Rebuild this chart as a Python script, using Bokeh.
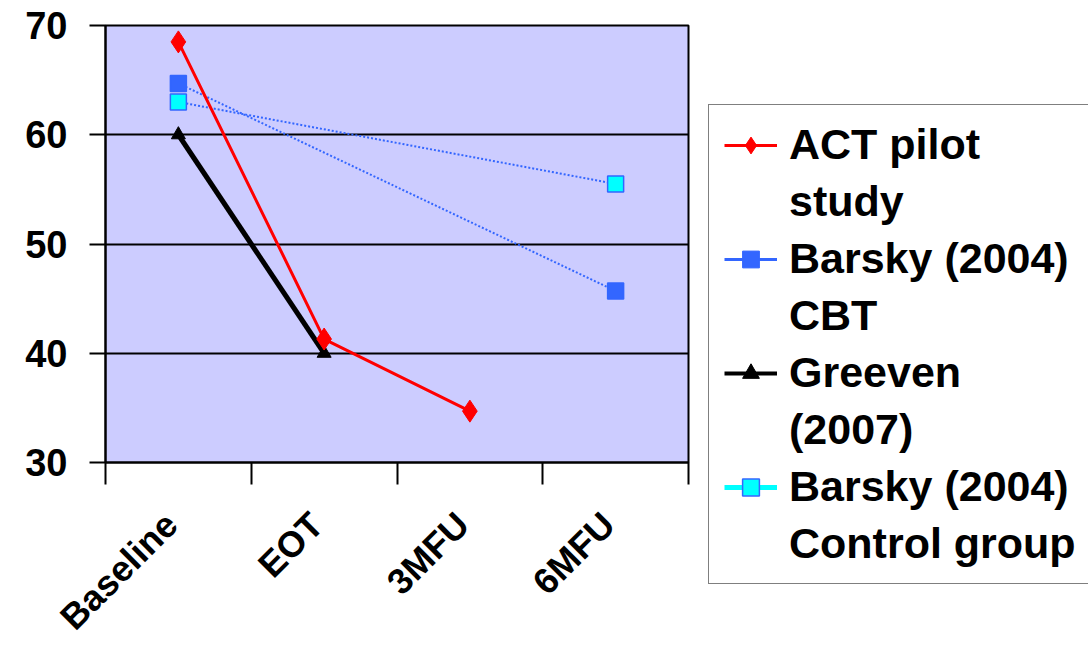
import math
from bokeh.plotting import figure
from bokeh.models import Range1d, FixedTicker, Legend, LegendItem
from bokeh.embed import file_html
from bokeh.resources import INLINE

categories = ["Baseline", "EOT", "3MFU", "6MFU"]
act_pilot = [68.5, 41.3, 34.7, None]
barsky_cbt = [64.7, None, None, 45.7]
greeven = [60.0, 40.0, None, None]
barsky_control = [63.0, None, None, 55.5]
y_ticks = [30, 40, 50, 60, 70]

legend_labels = [
    ["ACT pilot", "study"],
    ["Barsky (2004)", "CBT"],
    ["Greeven", "(2007)"],
    ["Barsky (2004)", "Control group"],
]

FONT_NAME = "Liberation Sans"
xpos = [i + 0.5 for i in range(len(categories))]
label_pos = [round(x - 0.05, 2) for x in xpos]
NAN = float("nan")


def pts(vals):
    xs = [x for x, v in zip(xpos, vals) if v is not None]
    ys = [v for v in vals if v is not None]
    return xs, ys


p = figure(width=1088, height=657, frame_width=583, frame_height=437,
           x_range=Range1d(0, len(categories)),
           y_range=Range1d(y_ticks[0], y_ticks[-1]),
           output_backend="svg", toolbar_location=None,
           min_border_left=105, min_border_right=0,
           min_border_top=25, min_border_bottom=0)
p.background_fill_color = "#CCCCFF"
p.border_fill_color = "white"
p.outline_line_color = "black"
p.outline_line_width = 2

# axes
xa = p.xaxis[0]
xa.ticker = FixedTicker(ticks=label_pos, minor_ticks=list(range(len(categories) + 1)))
xa.major_label_overrides = {x: c for x, c in zip(label_pos, categories)}
xa.major_tick_out = 0
xa.major_tick_in = 0
xa.major_tick_line_color = None
xa.minor_tick_out = 22
xa.minor_tick_in = 0
xa.minor_tick_line_color = "black"
xa.minor_tick_line_width = 2
xa.axis_line_color = "black"
xa.axis_line_width = 2
xa.major_label_orientation = math.pi / 4
xa.major_label_standoff = 34
xa.major_label_text_font = FONT_NAME
xa.major_label_text_font_style = "bold"
xa.major_label_text_font_size = "36px"
xa.major_label_text_color = "black"

ya = p.yaxis[0]
ya.ticker = FixedTicker(ticks=y_ticks, minor_ticks=[])
ya.major_tick_out = 16
ya.major_tick_in = 0
ya.major_tick_line_color = "black"
ya.major_tick_line_width = 2
ya.axis_line_color = "black"
ya.axis_line_width = 2
ya.major_label_standoff = 22
ya.major_label_text_font = FONT_NAME
ya.major_label_text_font_style = "bold"
ya.major_label_text_font_size = "38px"
ya.major_label_text_color = "black"

p.xgrid.visible = False
p.ygrid.ticker = FixedTicker(ticks=y_ticks)
p.ygrid.grid_line_color = "black"
p.ygrid.grid_line_width = 2

# lines
bx, by = pts(barsky_cbt)
p.line(bx, by, line_color="#3366FF", line_width=2, line_dash="2 2")
cx, cy = pts(barsky_control)
p.line(cx, cy, line_color="#3366FF", line_width=2, line_dash="2 2")
gx, gy = pts(greeven)
p.line(gx, gy, line_color="black", line_width=5)
ax_, ay_ = pts(act_pilot)
p.line(ax_, ay_, line_color="red", line_width=3)

# markers
p.scatter(gx, gy, marker="triangle", size=14, fill_color="black", line_color="black")
p.scatter(ax_, ay_, marker="diamond", size=22, fill_color="red", line_color="red")
p.scatter(bx, by, marker="square", size=16, fill_color="#3366FF", line_color="#3366FF", line_width=1.5)
p.scatter(cx, cy, marker="square", size=16, fill_color="#00FFFF", line_color="#3366FF", line_width=1.5)

# legend sample renderers (not drawn in the plot, only used for legend glyphs)
l1 = p.line([NAN], [NAN], line_color="red", line_width=3)
m1 = p.scatter([NAN], [NAN], marker="diamond", fill_color="red", line_color="red")
l2 = p.line([NAN], [NAN], line_color="#3366FF", line_width=3)
m2 = p.scatter([NAN], [NAN], marker="square", fill_color="#3366FF", line_color="#3366FF")
l3 = p.line([NAN], [NAN], line_color="black", line_width=4)
m3 = p.scatter([NAN], [NAN], marker="triangle", fill_color="black", line_color="black")
l4 = p.line([NAN], [NAN], line_color="#00FFFF", line_width=5)
m4 = p.scatter([NAN], [NAN], marker="square", fill_color="#00FFFF", line_color="#3366FF", line_width=1.5)
blank = p.line([NAN], [NAN], line_alpha=0)

items = []
for lab, r in zip(legend_labels, [[l1, m1], [l2, m2], [l3, m3], [l4, m4]]):
    items.append(LegendItem(label=lab[0], renderers=r))
    items.append(LegendItem(label=lab[1], renderers=[blank]))

legend = Legend(items=items, location=(20, -122),
                label_text_font=FONT_NAME, label_text_font_style="bold",
                label_text_font_size="43px", label_text_color="black",
                glyph_width=53, glyph_height=42, label_standoff=12,
                label_height=48, padding=15, spacing=8, margin=0,
                border_line_color="black", border_line_width=1.5,
                background_fill_color="white", background_fill_alpha=1.0)
p.add_layout(legend, "right")

open("out.html", "w").write(file_html(p, INLINE))
